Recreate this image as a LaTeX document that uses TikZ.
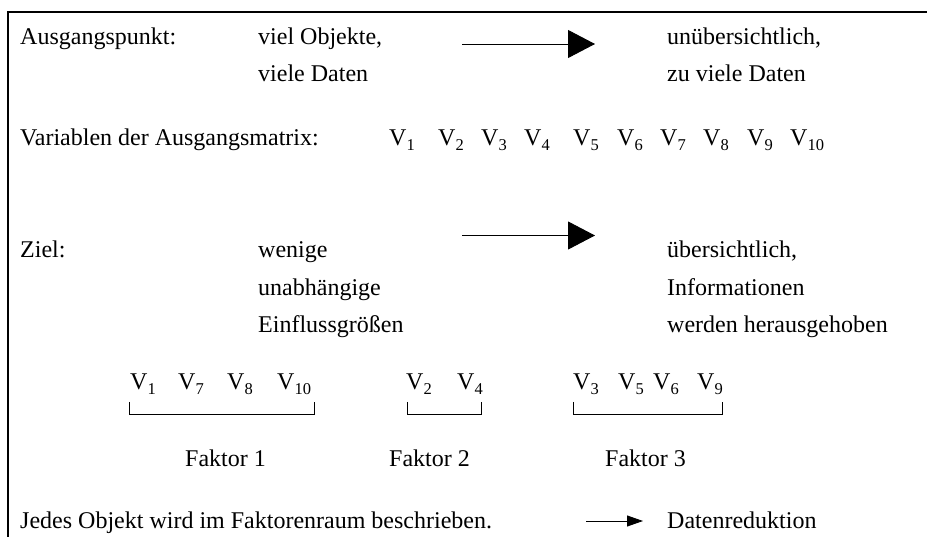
\documentclass[tikz,border=0pt]{standalone}
\usepackage{fontspec}
\setmainfont{Liberation Serif}
\usetikzlibrary{arrows.meta}
\newcommand{\vsub}[1]{V\raisebox{-5pt}{\fontsize{16.5}{17}\selectfont #1}}
\begin{document}
\begin{tikzpicture}[x=1pt,y=-1pt,
  txt/.style={anchor=base west,inner sep=0pt,font=\fontsize{24}{28}\selectfont},
  bigarrow/.style={line width=0.9pt,-{Triangle[length=27pt,width=28pt]}},
  smallarrow/.style={line width=0.9pt,-{Triangle[length=16pt,width=11pt]}},
  bracket/.style={line width=0.8pt},
  frame/.style={line width=2pt}]
\useasboundingbox (0,0) rectangle (927,537);
\draw[frame] (8,537) -- (8,12.5) -- (927,12.5);
% row 1
\node[txt] (a1) at (20,45) {Ausgangspunkt:};
\node[txt] (a2) at (258,45) {viel Objekte,};
\node[txt] (a3) at (258,82) {viele Daten};
\node[txt] (a4) at (667,45) {unübersichtlich,};
\node[txt] (a5) at (667,82) {zu viele Daten};
\coordinate (ar1s) at (462,44);
\coordinate (ar1e) at (595,44);
\draw[bigarrow] (ar1s) -- (ar1e);
% variables
\node[txt] (var) at (20,146) {Variablen der Ausgangsmatrix:};
\node[txt] (v1) at (389,146) {\vsub{1}};
\node[txt] (v2) at (438,146) {\vsub{2}};
\node[txt] (v3) at (481,146) {\vsub{3}};
\node[txt] (v4) at (524,146) {\vsub{4}};
\node[txt] (v5) at (573,146) {\vsub{5}};
\node[txt] (v6) at (617,146) {\vsub{6}};
\node[txt] (v7) at (660,146) {\vsub{7}};
\node[txt] (v8) at (703,146) {\vsub{8}};
\node[txt] (v9) at (747,146) {\vsub{9}};
\node[txt] (v10) at (790,146) {\vsub{10}};
% Ziel
\node[txt] (z1) at (20,258) {Ziel:};
\node[txt] (z2) at (258,258) {wenige};
\node[txt] (z3) at (258,296) {unabhängige};
\node[txt] (z4) at (258,333) {Einflussgrößen};
\node[txt] (z5) at (667,258) {übersichtlich,};
\node[txt] (z6) at (667,296) {Informationen};
\node[txt] (z7) at (667,333) {werden herausgehoben};
\coordinate (ar2s) at (462,235.5);
\coordinate (ar2e) at (595,235.5);
\draw[bigarrow] (ar2s) -- (ar2e);
% groups
\node[txt] (g1a) at (130,390) {\vsub{1}};
\node[txt] (g1b) at (178,390) {\vsub{7}};
\node[txt] (g1c) at (227,390) {\vsub{8}};
\node[txt] (g1d) at (277,390) {\vsub{10}};
\node[txt] (g2a) at (406,390) {\vsub{2}};
\node[txt] (g2b) at (457,390) {\vsub{4}};
\node[txt] (g3a) at (573,390) {\vsub{3}};
\node[txt] (g3b) at (618,390) {\vsub{5}};
\node[txt] (g3c) at (653,390) {\vsub{6}};
\node[txt] (g3d) at (697,390) {\vsub{9}};
\draw[bracket] (129,402) -- (129,414.5) -- (314,414.5) -- (314,402);
\draw[bracket] (407,402) -- (407,414.5) -- (481,414.5) -- (481,402);
\draw[bracket] (573,402) -- (573,414.5) -- (722,414.5) -- (722,402);
\node[txt] (f1) at (185,466) {Faktor 1};
\node[txt] (f2) at (389,466) {Faktor 2};
\node[txt] (f3) at (605,466) {Faktor 3};
% bottom
\node[txt] (j) at (20,528) {Jedes Objekt wird im Faktorenraum beschrieben.};
\node[txt] (d) at (667,528) {Datenreduktion};
\coordinate (ar3s) at (586,521);
\coordinate (ar3e) at (643,521);
\draw[smallarrow] (ar3s) -- (ar3e);
\end{tikzpicture}
\end{document}
